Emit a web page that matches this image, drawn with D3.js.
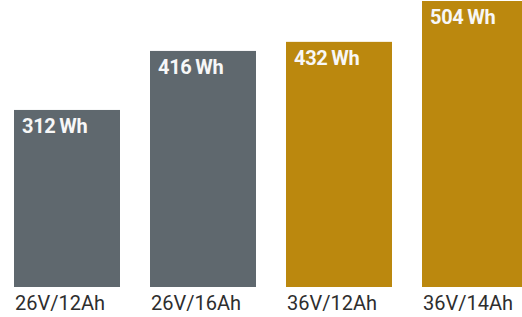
<!DOCTYPE html>
<meta charset="utf-8">
<style>
  body { margin: 0; background: #fff; }
</style>
<div id="container"></div>
<script src="https://cdn.jsdelivr.net/npm/d3@7"></script>
<script>

// battery packs and their capacity
const packs = ['26V/12Ah', '26V/16Ah', '36V/12Ah', '36V/14Ah'];
const capacities = [312, 416, 432, 504];
const voltages = ['26V', '26V', '36V', '36V'];

const data = packs.map((p, i) => ({ pack: p, wh: capacities[i], volt: voltages[i] }));

const width = 522;
const height = 317;

// step 136, bar 106 -> last bar runs past the right edge like in the original crop
const x = d3.scaleBand()
    .domain(packs)
    .range([14, 528])
    .paddingInner(30 / 136)
    .paddingOuter(0);

const y = d3.scaleLinear().domain([0, 504]).range([287, 1]);

const color = d3.scaleOrdinal().domain(['26V', '36V']).range(['#5f686e', '#bb880e']);

const svg = d3.create('svg')
    .attr('width', width)
    .attr('height', height);

svg.selectAll('rect').data(data).enter().append('rect')
    .attr('x', d => x(d.pack))
    .attr('y', d => y(d.wh))
    .attr('width', x.bandwidth())
    .attr('height', d => y(0) - y(d.wh))
    .attr('fill', d => color(d.volt));

// values inside the bars
svg.selectAll('text.val').data(data).enter().append('text')
    .attr('class', 'val')
    .attr('x', d => x(d.pack) + 8)
    .attr('y', d => y(d.wh) + 23)
    .attr('fill', '#f7f7f7')
    .style('font-family', 'Roboto, sans-serif')
    .style('font-weight', 700)
    .style('font-size', '20px')
    .style('letter-spacing', '-0.3px')
    .text(d => d.wh + '\u2009Wh');

// pack names under the bars
svg.selectAll('text.cat').data(data).enter().append('text')
    .attr('class', 'cat')
    .attr('x', d => x(d.pack) + 1)
    .attr('y', 310)
    .attr('fill', '#2e2e2e')
    .style('font-family', 'Roboto, sans-serif')
    .style('font-size', '20px')
    .text(d => d.pack);

container.append(svg.node());

</script>
